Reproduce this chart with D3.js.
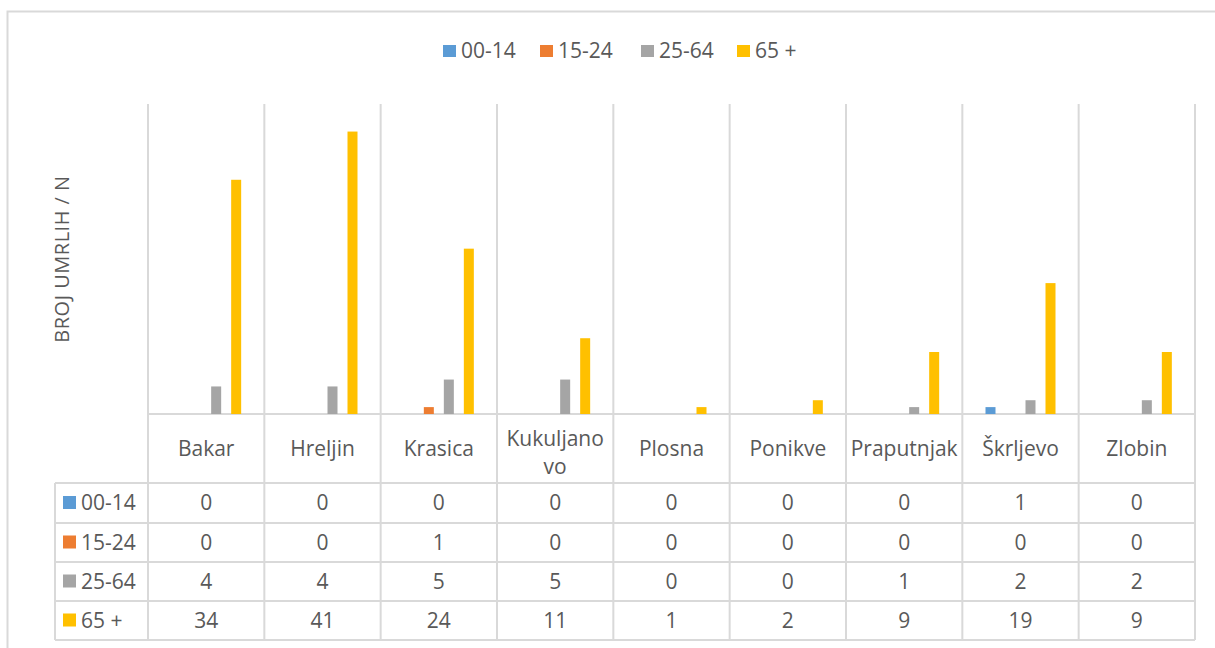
<!DOCTYPE html>
<html>
<head>
<meta charset="utf-8">
<script src="https://cdnjs.cloudflare.com/ajax/libs/d3/7.8.5/d3.min.js"></script>
<style>
  body { margin: 0; background: #fff; }
  text { font-family: "Open Sans", "Liberation Sans", sans-serif; fill: #595959; }
</style>
</head>
<body>
<svg id="chart" width="1215" height="648"></svg>
<script>
var places = ["Bakar", "Hreljin", "Krasica", "Kukuljano vo", "Plosna", "Ponikve", "Praputnjak", "Škrljevo", "Zlobin"];
var series = ["00-14", "15-24", "25-64", "65 +"];
var colors = ["#5b9bd5", "#ed7d31", "#a5a5a5", "#ffc000"];
var age00_14 = [0, 0, 0, 0, 0, 0, 0, 1, 0];
var age15_24 = [0, 0, 1, 0, 0, 0, 0, 0, 0];
var age25_64 = [4, 4, 5, 5, 0, 0, 1, 2, 2];
var age65 = [34, 41, 24, 11, 1, 2, 9, 19, 9];
var values = [age00_14, age15_24, age25_64, age65];
var yMax = 45;

var svg = d3.select("#chart");
var grid = "#d9d9d9";

var plotLeft = 148, plotRight = 1195, plotTop = 104, base = 414;
var tableLeft = 55, catRowBottom = 483;
var rowEdges = [483, 523, 562, 601, 640];
var fs = 21;

// outer chart border
svg.append("rect")
  .attr("x", 7.5).attr("y", 11.5)
  .attr("width", 1240).attr("height", 700)
  .attr("fill", "none").attr("stroke", grid).attr("stroke-width", 2);

var x0 = d3.scaleBand().domain(places).range([plotLeft, plotRight]);
var groupStep = 20;
var x1 = d3.scaleBand().domain(series)
  .range([0, x0.bandwidth()])
  .paddingInner(0.5)
  .paddingOuter((x0.bandwidth() / groupStep - 3.5) / 2);
var y = d3.scaleLinear().domain([0, yMax]).range([base, plotTop]);

// vertical gridlines at category boundaries (plot + table)
var bounds = places.map(function(d) { return x0(d); }).concat([plotRight]);
svg.append("g").selectAll("line")
  .data(bounds)
  .enter().append("line")
  .attr("x1", function(d) { return d; })
  .attr("x2", function(d) { return d; })
  .attr("y1", plotTop)
  .attr("y2", rowEdges[rowEdges.length - 1])
  .attr("stroke", grid).attr("stroke-width", 2);

// horizontal table lines
svg.append("line")
  .attr("x1", plotLeft).attr("x2", plotRight)
  .attr("y1", base).attr("y2", base)
  .attr("stroke", grid).attr("stroke-width", 2);
svg.append("g").selectAll("line")
  .data(rowEdges)
  .enter().append("line")
  .attr("x1", tableLeft).attr("x2", plotRight)
  .attr("y1", function(d) { return d; })
  .attr("y2", function(d) { return d; })
  .attr("stroke", grid).attr("stroke-width", 2);
svg.append("line")
  .attr("x1", tableLeft).attr("x2", tableLeft)
  .attr("y1", rowEdges[0]).attr("y2", rowEdges[rowEdges.length - 1])
  .attr("stroke", grid).attr("stroke-width", 2);

// bars
var bars = svg.append("g");
series.forEach(function(s, si) {
  bars.selectAll("rect.s" + si)
    .data(values[si])
    .enter().append("rect")
    .attr("class", "s" + si)
    .attr("x", function(d, i) { return x0(places[i]) + x1(s); })
    .attr("width", x1.bandwidth())
    .attr("y", function(d) { return y(d); })
    .attr("height", function(d) { return base - y(d); })
    .attr("fill", colors[si]);
});

// category labels
svg.append("g").selectAll("text")
  .data(places)
  .enter().append("text")
  .attr("x", function(d) { return x0(d) + x0.bandwidth() / 2; })
  .attr("y", (base + catRowBottom) / 2)
  .attr("text-anchor", "middle")
  .attr("font-size", fs)
  .each(function(d) {
    var parts = d.split(" ");
    var t = d3.select(this);
    parts.forEach(function(p, i) {
      t.append("tspan")
        .attr("x", x0(d) + x0.bandwidth() / 2)
        .attr("dy", i === 0 ? (0.35 - (parts.length - 1) * 0.45) + "em" : "1.3em")
        .text(p);
    });
  });

// table rows
series.forEach(function(s, si) {
  var cy = (rowEdges[si] + rowEdges[si + 1]) / 2;
  svg.append("rect")
    .attr("x", 63).attr("y", cy - 7)
    .attr("width", 13).attr("height", 13)
    .attr("fill", colors[si]);
  svg.append("text")
    .attr("x", 81).attr("y", cy)
    .attr("dy", "0.35em")
    .attr("font-size", fs)
    .text(s);
  svg.append("g").selectAll("text")
    .data(values[si])
    .enter().append("text")
    .attr("x", function(d, i) { return x0(places[i]) + x0.bandwidth() / 2; })
    .attr("y", cy)
    .attr("dy", "0.35em")
    .attr("text-anchor", "middle")
    .attr("font-size", fs)
    .text(function(d) { return d; });
});

// legend
var legendX = [443, 540, 641, 737];
var legend = svg.append("g").selectAll("g")
  .data(series)
  .enter().append("g")
  .attr("transform", function(d, i) { return "translate(" + legendX[i] + ",51)"; });
legend.append("rect")
  .attr("x", 0).attr("y", -6)
  .attr("width", 13).attr("height", 12)
  .attr("fill", function(d, i) { return colors[i]; });
legend.append("text")
  .attr("x", 18).attr("dy", "0.35em")
  .attr("font-size", fs)
  .text(function(d) { return d; });

// y axis title
svg.append("text")
  .attr("transform", "translate(62,259) rotate(-90)")
  .attr("dy", "0.35em")
  .attr("text-anchor", "middle")
  .attr("font-size", 20)
  .attr("letter-spacing", 0.5)
  .text("BROJ UMRLIH / N");
</script>
</body>
</html>
